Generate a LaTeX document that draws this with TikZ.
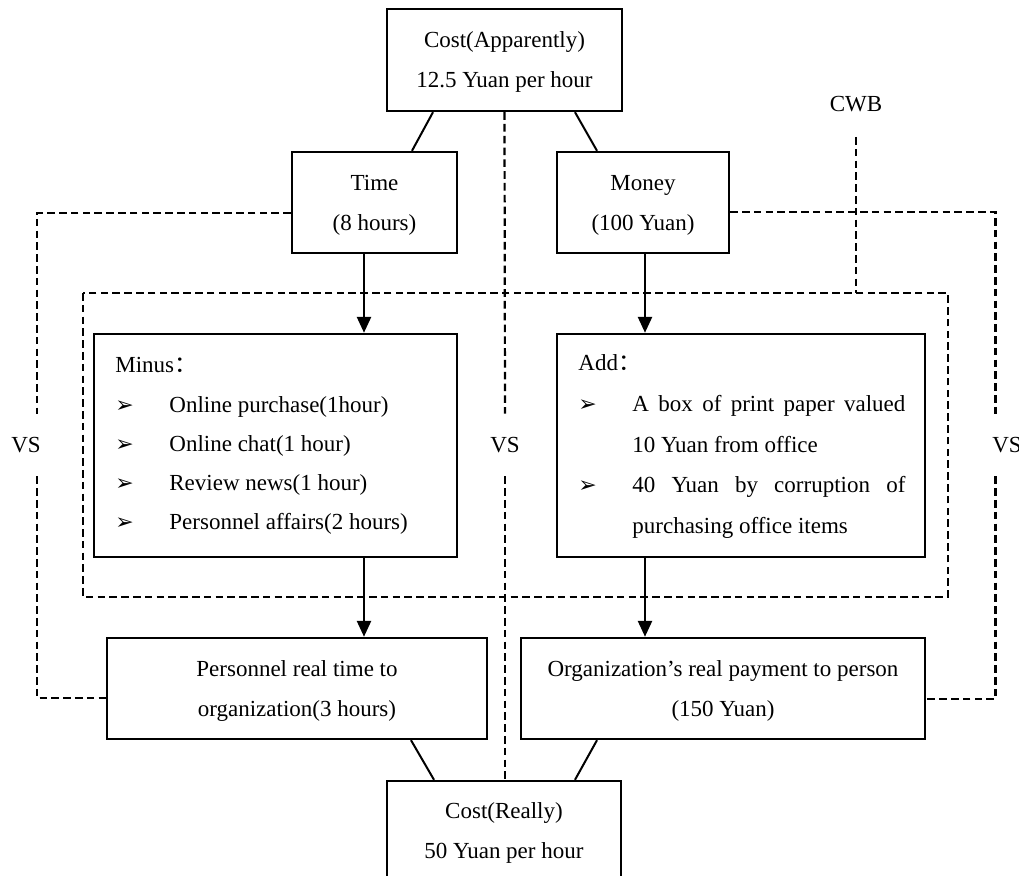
\documentclass[tikz,border=0pt]{standalone}
\usepackage{fontspec}
\setmainfont{Liberation Serif}
\newfontfamily\arrowfont{DejaVu Sans}
\newfontfamily\cjkfont{Noto Sans CJK SC}
\usetikzlibrary{arrows.meta}

\newcommand{\itemarrow}{{\arrowfont\fontsize{11}{11}\selectfont ➢}}
\newcommand{\fullcolon}{{\cjkfont ：}}

\begin{document}
\begin{tikzpicture}[x=0.5pt,y=-0.5pt,>={Triangle[length=8pt,width=7pt]},
    every node/.style={font=\fontsize{11.5}{20}\selectfont},
    box/.style={draw,line width=1.2pt,align=center,inner sep=0pt,text depth=0pt},
    link/.style={line width=1pt},
    flow/.style={line width=1.3pt,->},
    dashline/.style={line width=1.1pt,dash pattern=on 3.8pt off 2.1pt},
    vs label/.style={minimum height=31pt,inner sep=0pt},
    list/.style={anchor=base west,inner sep=0pt}]

  \useasboundingbox (0,0) rectangle (1019,876);

  % boxes
  \node[box,minimum width=117.5pt,minimum height=51pt] (top) at (504.5,60) {Cost(Apparently)\\12.5 Yuan per hour};
  \node[box,minimum width=82.5pt,minimum height=50.5pt] (time) at (374.5,202.5) {Time\\(8 hours)};
  \node[box,minimum width=86pt,minimum height=50.5pt] (money) at (643,202.5) {Money\\(100 Yuan)};
  \node[box,minimum width=181.5pt,minimum height=111.5pt] (minus) at (275.5,445.5) {};
  \node[box,minimum width=184pt,minimum height=111.5pt] (add) at (741,445.5) {};
  \node[box,minimum width=190pt,minimum height=50.5pt] (realtime) at (297,688.5) {Personnel real time to\\organization(3 hours)};
  \node[box,minimum width=202pt,minimum height=50.5pt] (realpay) at (723,688.5) {Organization’s real payment to person\\(150 Yuan)};
  \node[box,minimum width=117pt,minimum height=50pt] (bottom) at (504,831) {Cost(Really)\\50 Yuan per hour};

  % box contents
  \node[list,font=\fontsize{11.5}{19.6}\selectfont] (minuslist) at (115,373) {%
    \begin{tabular}[t]{@{}p{27pt}@{}l@{}}
      \multicolumn{2}{@{}l@{}}{Minus\fullcolon}\\
      \itemarrow & Online purchase(1hour)\\
      \itemarrow & Online chat(1 hour)\\
      \itemarrow & Review news(1 hour)\\
      \itemarrow & Personnel affairs(2 hours)
    \end{tabular}};
  \node[list,font=\fontsize{11.5}{20.3}\selectfont] (addlist) at (578,371) {%
    \begin{tabular}[t]{@{}p{27pt}@{}p{136.5pt}@{}}
      \multicolumn{2}{@{}l@{}}{Add\fullcolon}\\
      \itemarrow & A box of print paper valued\linebreak 10 Yuan from office\\
      \itemarrow & 40 Yuan by corruption of\linebreak purchasing office items
    \end{tabular}};

  % labels
  \node[vs label] (vsl) at (26,445) {VS};
  \node[vs label] (vsm) at (505,445) {VS};
  \node[vs label] (vsr) at (1007,445) {VS};
  \node[inner sep=0pt] (cwb) at (856,104) {CWB};

  \coordinate (tx) at (364,0);
  \coordinate (mx) at (645,0);
  \coordinate (lx) at (37,0);
  \coordinate (rx) at (995.5,0);
  \coordinate (cwbtop) at (856,137);

  % solid links
  \draw[link] ([xshift=-35.75pt]top.south) -- ([xshift=18.75pt]time.north);
  \draw[link] ([xshift=35.25pt]top.south) -- ([xshift=-23pt]money.north);
  \draw[link] ([xshift=57pt]realtime.south) -- ([xshift=-35pt]bottom.north);
  \draw[link] ([xshift=-63pt]realpay.south) -- ([xshift=35.5pt]bottom.north);

  \draw[flow] (tx |- time.south) -- (tx |- minus.north);
  \draw[flow] (mx |- money.south) -- (mx |- add.north);
  \draw[flow] (tx |- minus.south) -- (tx |- realtime.north);
  \draw[flow] (mx |- add.south) -- (mx |- realpay.north);

  % dashed frame and brackets
  \draw[dashline] (83,293) coordinate (framenw) rectangle (948,597);
  \draw[dashline] (cwbtop) -- (cwbtop |- framenw);
  \draw[dashline] (top.south) -- (vsm.north);
  \draw[dashline] (vsm.south) -- (vsm.south |- bottom.north);
  \draw[dashline] ([yshift=-5.25pt]time.west) -| (lx |- vsl.north);
  \draw[dashline] (lx |- vsl.south) |- ([yshift=-4.75pt]realtime.west);
  \draw[dashline] ([yshift=-4.75pt]money.east) -| (rx |- vsr.north);
  \draw[dashline] (rx |- vsr.south) |- ([yshift=-5.25pt]realpay.east);

\end{tikzpicture}
\end{document}
